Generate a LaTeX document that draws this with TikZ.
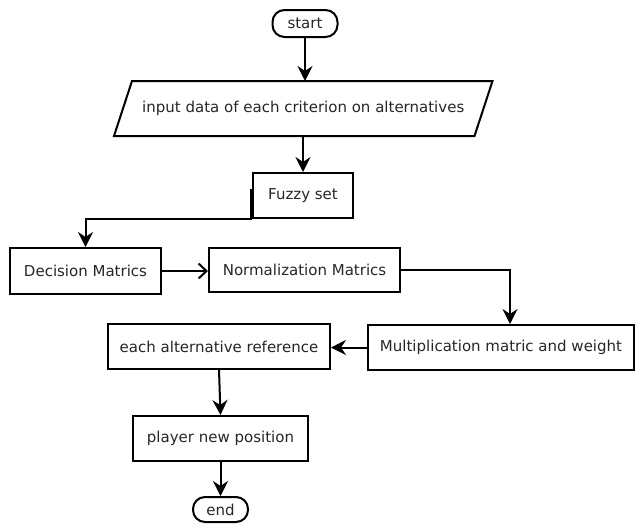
\documentclass[tikz,border=0pt]{standalone}
\usepackage{fontspec}
\setmainfont{DejaVu Sans}
\usetikzlibrary{arrows.meta,calc}
\begin{document}
\begin{tikzpicture}[x=1pt,y=-1pt,
  box/.style={draw,line width=2pt,inner sep=0pt,font=\fontsize{15}{18}\selectfont},
  term/.style={box,rounded corners=12pt},
  flow/.style={line width=2pt,-{Stealth[length=15pt,width=15pt,inset=5pt]}},
  openflow/.style={line width=2pt,-{Straight Barb[length=8pt,width=15pt,line width=2pt]}},
  every node/.append style={text=black!85}]
\useasboundingbox (0,0) rectangle (636,523);
\node[term,minimum width=65pt,minimum height=27pt] (start) at (305,23.5) {start};
\node[box,draw=none,minimum width=358.5pt,minimum height=53pt] (input) at (303.25,108.5) {input data of each criterion on alternatives};
\draw[line width=2pt] ($(input.south west)+(-9,0)$) -- ($(input.north west)+(9,0)$) -- ($(input.north east)+(9,0)$) -- ($(input.south east)+(-9,0)$) -- cycle;
\node[box,minimum width=100pt,minimum height=45pt] (fuzzy) at (303,195.5) {Fuzzy set};
\node[box,minimum width=151pt,minimum height=46pt] (decision) at (85.5,271) {Decision Matrics};
\node[box,minimum width=191pt,minimum height=44pt] (norm) at (304.5,270) {Normalization Matrics};
\node[box,minimum width=266pt,minimum height=45pt] (mult) at (501,347.5) {Multiplication matric and weight};
\node[box,minimum width=222pt,minimum height=45pt] (each) at (219,346.5) {each alternative reference};
\node[box,minimum width=175pt,minimum height=45pt] (player) at (220.5,438.5) {player new position};
\node[term,minimum width=55pt,minimum height=25pt] (end) at (220.5,509.5) {end};
\draw[flow] (start.south) -- (start.south |- input.north);
\draw[flow] (input.south -| fuzzy.north) -- (fuzzy.north);
\draw[flow] ($(fuzzy.north west)+(-1,17)$) -- ($(fuzzy.south west)+(-1,0)$) -| (decision.north);
\draw[openflow] (decision.east) -- (decision.east -| norm.west);
\draw[flow] (norm.east) -| ([xshift=9pt]mult.north);
\draw[flow] (mult.west) -- (mult.west -| each.east);
\draw[flow] (each.south) -- (player.north);
\draw[flow] (player.south) -- (end.north);
\end{tikzpicture}
\end{document}
